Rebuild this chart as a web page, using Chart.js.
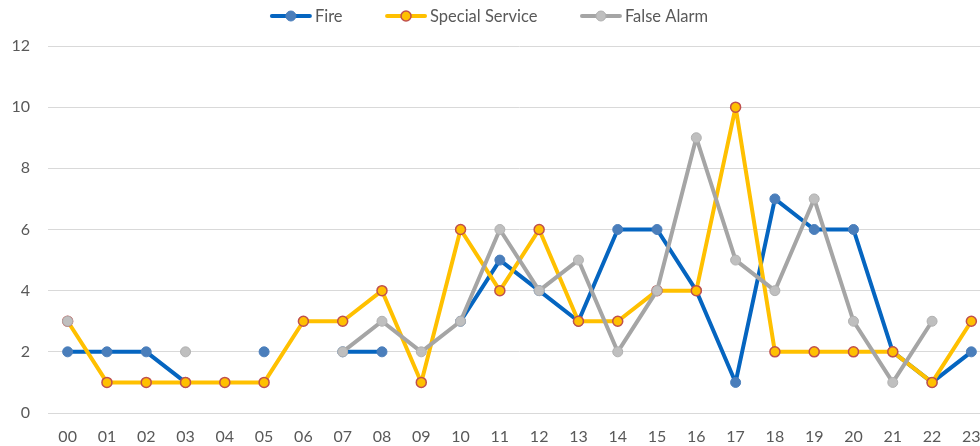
<!DOCTYPE html>
<html>
<head>
<meta charset="utf-8">
<script src="https://cdn.jsdelivr.net/npm/chart.js@4/dist/chart.umd.min.js"></script>
<style>
  html, body { margin: 0; padding: 0; background: #fff; overflow: hidden; }
  #wrap { position: absolute; left: 0; top: 0; width: 991px; height: 446px; }
</style>
</head>
<body>
<div id="wrap"><canvas id="ch-incidents"></canvas></div>
<script>
// ── Data ──────────────────────────────────────────────
const hours = ['00','01','02','03','04','05','06','07','08','09','10','11',
               '12','13','14','15','16','17','18','19','20','21','22','23'];
const fire       = [2, 2, 2, 1, null, 2, null, 2, 2, null, 3, 5, 4, 3, 6, 6, 4, 1, 7, 6, 6, 2, 1, 2];
const special    = [3, 1, 1, 1, 1, 1, 3, 3, 4, 1, 6, 4, 6, 3, 3, 4, 4, 10, 2, 2, 2, 2, 1, 3];
const falseAlarm = [3, null, null, 2, null, null, null, 2, 3, 2, 3, 6, 4, 5, 2, 4, 9, 5, 4, 7, 3, 1, 3, null];
const yTicks = [0, 2, 4, 6, 8, 10, 12];

const FONT = 'Lato';
const TXT = '#595959';

// ── Legend drawn as line + marker, like the original ──
const lineLegend = {
  id: 'lineLegend',
  afterDraw(chart) {
    const ctx = chart.ctx;
    const y = 16, lineLen = 42, textGap = 3, itemGap = 42.5, centerX = 489;
    ctx.save();
    ctx.font = `16.5px ${FONT}`;
    const items = chart.data.datasets.map(ds => ({ ds, w: lineLen + textGap + ctx.measureText(ds.label).width }));
    const total = items.reduce((s, it) => s + it.w, 0) + itemGap * (items.length - 1);
    let x = centerX - total / 2;
    items.forEach(({ ds, w }) => {
      ctx.strokeStyle = ds.borderColor;
      ctx.lineWidth = ds.borderWidth;
      ctx.lineCap = 'round';
      ctx.beginPath(); ctx.moveTo(x + 2, y); ctx.lineTo(x + lineLen - 2, y); ctx.stroke();
      ctx.beginPath(); ctx.arc(x + lineLen / 2, y, 5, 0, Math.PI * 2);
      ctx.fillStyle = ds.pointBackgroundColor; ctx.fill();
      ctx.lineWidth = ds.pointBorderWidth; ctx.strokeStyle = ds.pointBorderColor; ctx.stroke();
      ctx.fillStyle = TXT;
      ctx.textBaseline = 'middle';
      ctx.textAlign = 'left';
      ctx.fillText(ds.label, x + lineLen + textGap, y + 1);
      x += w + itemGap;
    });
    ctx.restore();
  }
};

new Chart(document.getElementById('ch-incidents'), {
  type: 'line',
  data: {
    labels: hours,
    datasets: [
      { label: 'Fire', data: fire, order: 3,
        borderColor: '#0565c0', borderWidth: 4,
        pointBackgroundColor: '#4a7ebb', pointBorderColor: '#4a7ebb', pointBorderWidth: 1, pointRadius: 5 },
      { label: 'Special Service', data: special, order: 2,
        borderColor: '#ffc000', borderWidth: 4,
        pointBackgroundColor: '#ffc000', pointBorderColor: '#c0504d', pointBorderWidth: 1.5, pointRadius: 5 },
      { label: 'False Alarm', data: falseAlarm, order: 1,
        borderColor: '#a5a5a5', borderWidth: 4,
        pointBackgroundColor: '#bfbfbf', pointBorderColor: '#b0b0b0', pointBorderWidth: 1, pointRadius: 5 }
    ]
  },
  options: {
    responsive: true,
    maintainAspectRatio: false,
    animation: false,
    spanGaps: false,
    layout: { autoPadding: false, padding: { top: 46, left: 13, right: 0, bottom: 0 } },
    elements: { line: { tension: 0, borderJoinStyle: 'round' } },
    plugins: { legend: { display: false }, tooltip: { enabled: false } },
    scales: {
      x: {
        offset: true,
        grid: { display: false, drawTicks: false },
        border: { display: true, color: '#d9d9d9', width: 1 },
        ticks: { color: TXT, font: { family: FONT, size: 16 }, padding: 14, maxRotation: 0, autoSkip: false },
        afterFit: s => { s.height = 33; s.paddingLeft = 0; s.paddingRight = 0; }
      },
      y: {
        min: 0, max: 12,
        afterBuildTicks: s => { s.ticks = yTicks.map(v => ({ value: v })); },
        grid: { color: '#d9d9d9', lineWidth: 1, drawTicks: false },
        border: { display: false },
        ticks: { color: TXT, font: { family: FONT, size: 16 }, padding: 18 },
        afterFit: s => { s.width = 35; }
      }
    }
  },
  plugins: [lineLegend]
});
</script>
</body>
</html>
